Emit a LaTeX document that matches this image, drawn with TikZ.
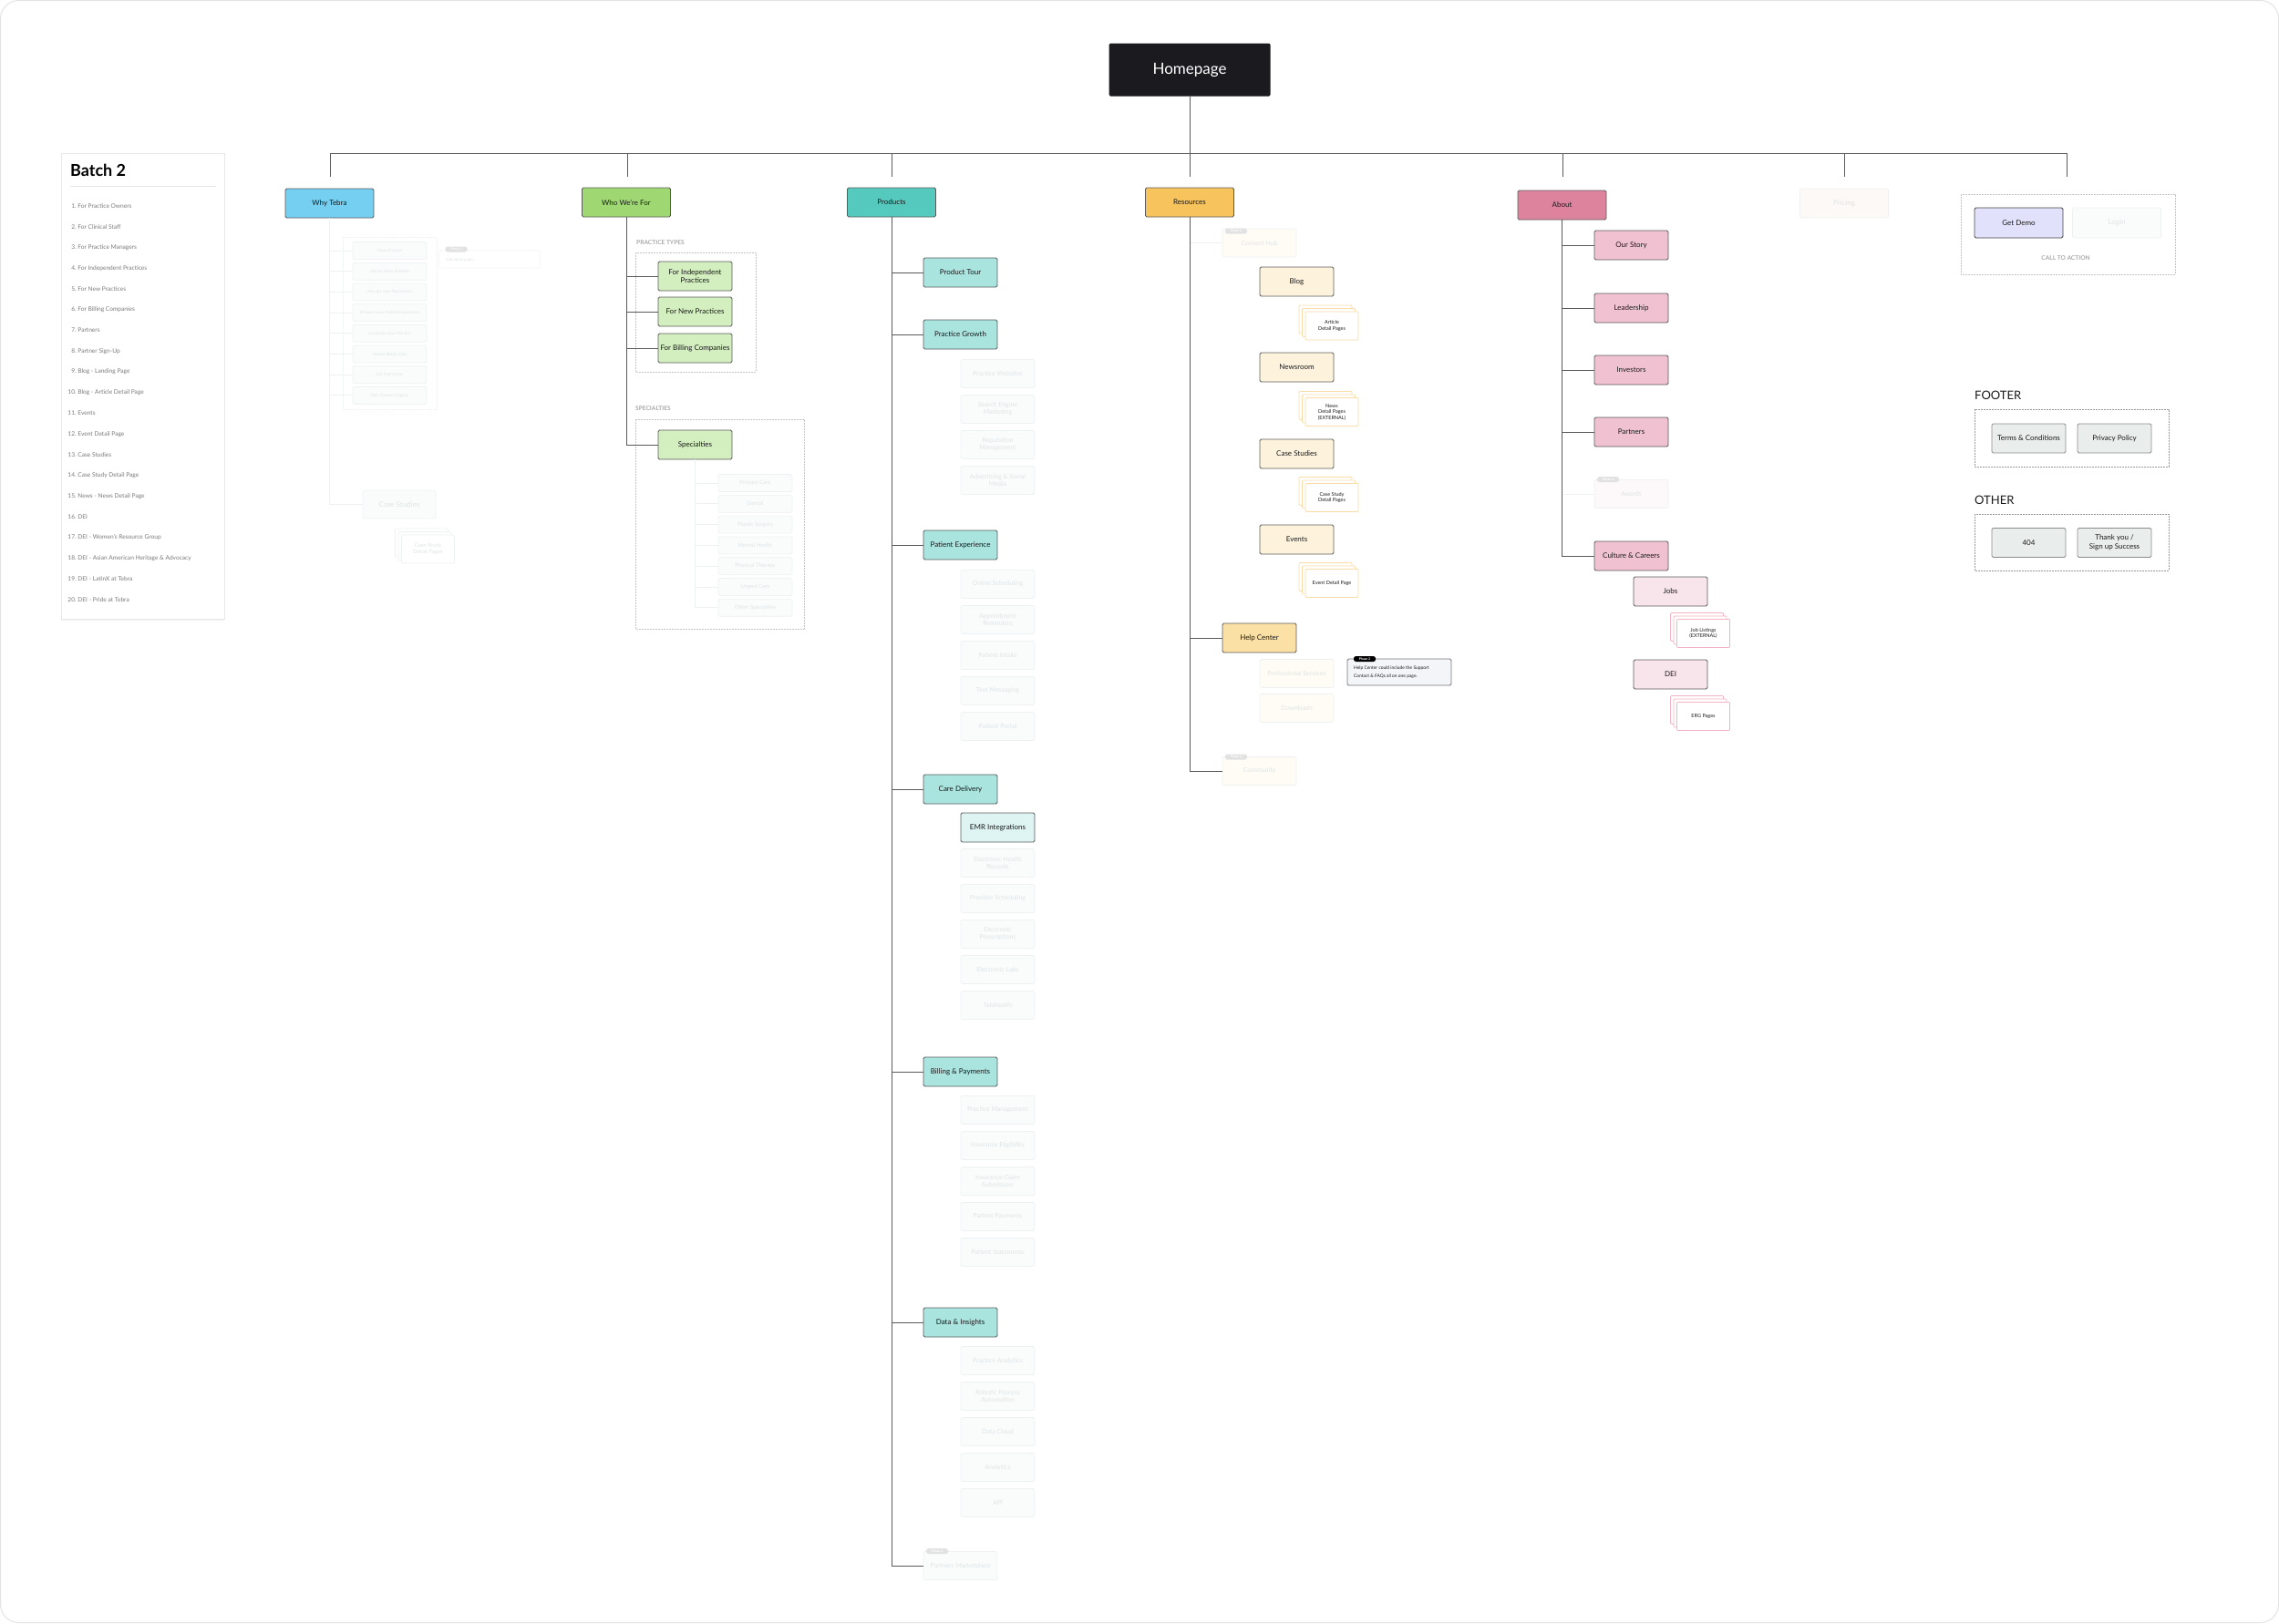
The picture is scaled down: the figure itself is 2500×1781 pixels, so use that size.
\documentclass[tikz,border=0pt]{standalone}
\usepackage{fontspec}
\setmainfont{Lato}
\usetikzlibrary{shadows}

\definecolor{homefill}{HTML}{1B1B1F}
\definecolor{edge}{HTML}{5A5A5A}
\definecolor{ink}{HTML}{1A1A1A}
\definecolor{whyfill}{HTML}{74CFF0}
\definecolor{whofill}{HTML}{9FD873}
\definecolor{whosub}{HTML}{D3EEBF}
\definecolor{prodfill}{HTML}{56C9BE}
\definecolor{prodsub}{HTML}{A9E4DF}
\definecolor{emrfill}{HTML}{DDF4F2}
\definecolor{resfill}{HTML}{F7C35C}
\definecolor{ressub}{HTML}{FDF3DD}
\definecolor{helpfill}{HTML}{FBE0A5}
\definecolor{resstack}{HTML}{FBDCA6}
\definecolor{aboutfill}{HTML}{DE839E}
\definecolor{aboutsub}{HTML}{F0C2D1}
\definecolor{aboutsubb}{HTML}{F8E5EB}
\definecolor{aboutstack}{HTML}{F3B3C5}
\definecolor{demofill}{HTML}{E1E1FB}
\definecolor{grayfill}{HTML}{E9EDEB}
\definecolor{ghostline}{HTML}{EDF1F1}
\definecolor{ghostfill}{HTML}{FAFCFC}
\definecolor{ghosttext}{HTML}{DFE4E4}
\definecolor{ghostbadge}{HTML}{E2E2E2}
\definecolor{resghost}{HTML}{FFFCF6}
\definecolor{aboutghost}{HTML}{FDF8F9}
\definecolor{priceghost}{HTML}{FDF9F6}
\definecolor{framegray}{HTML}{C4C4C4}
\definecolor{labelgray}{HTML}{A8A8A8}
\definecolor{listgray}{HTML}{7A7A7A}
\definecolor{notefill}{HTML}{F4F5F9}

\tikzset{
  box/.style={rectangle, rounded corners=1.5pt, draw=edge, line width=0.9pt, align=center,
    inner sep=1pt, text=ink, font=\fontsize{8}{9.5}\selectfont},
  catbox/.style={box, minimum width=97pt, minimum height=32pt, fill=#1},
  catbox/.default=white,
  subbox/.style={box, minimum width=81pt, minimum height=32pt, fill=#1},
  subbox/.default=white,
  ghost/.style={rectangle, rounded corners=1.5pt, draw=ghostline, line width=0.7pt, fill=#1,
    text=ghosttext, align=center, minimum width=81pt, minimum height=31pt, inner sep=1pt,
    font=\fontsize{7}{8}\selectfont},
  ghost/.default=ghostfill,
  minighost/.style={ghost, minimum height=19pt, font=\fontsize{4.5}{5.5}\selectfont},
  pagestack/.style={rectangle, rounded corners=1pt, draw=#1, line width=0.7pt, fill=white,
    minimum width=58pt, minimum height=31pt, align=center, inner sep=1pt, text=ink,
    font=\fontsize{5.5}{6.5}\selectfont,
    general shadow={shadow xshift=-7pt, shadow yshift=7pt, draw=#1, line width=0.7pt, fill=white},
    general shadow={shadow xshift=-3.5pt, shadow yshift=3.5pt, draw=#1, line width=0.7pt, fill=white}},
  pagestack/.default=resstack,
  badge/.style={rectangle, rounded corners=2.5pt, fill=#1, text=white, minimum width=24pt,
    minimum height=6pt, inner sep=0pt, font=\fontsize{3.5}{4}\selectfont\bfseries},
  badge/.default=ghostbadge,
  trunk/.style={draw=edge, line width=1pt},
  faintline/.style={draw=ghostline, line width=0.9pt},
  dashframe/.style={draw=framegray, line width=0.7pt, dash pattern=on 1.6pt off 1.4pt},
  grouplabel/.style={anchor=west, inner sep=0pt, text=labelgray, font=\fontsize{6.6}{7.5}\selectfont\bfseries},
  bigtitle/.style={anchor=west, inner sep=0pt, text=ink, font=\fontsize{13}{15}\selectfont},
}

\begin{document}
\begin{tikzpicture}[x=1pt, y=-1pt]
    \useasboundingbox (0,0) rectangle (2500,1781);
    \draw[draw=black!11, line width=1pt, rounded corners=20pt] (0.5,0.5) rectangle (2499.5,1780.5);

    % Liste de gauche
    \draw[fill=white, draw=black!9, drop shadow={shadow xshift=0pt, shadow yshift=-1.5pt, opacity=0.12}]
      (67,168) rectangle (246,679);
    \node[anchor=west, inner sep=0pt, text=black, font=\fontsize{18}{20}\selectfont\bfseries] (batch) at (77,187) {Batch 2};
    \draw[draw=black!10, line width=1pt] (77,204) -- (237,204);
    \foreach \t [count=\i] in {For Practice Owners, For Clinical Staff, For Practice Managers,
      For Independent Practices, For New Practices, For Billing Companies, Partners,
      Partner Sign-Up, Blog - Landing Page, Blog - Article Detail Page, Events,
      Event Detail Page, Case Studies, Case Study Detail Page, News - News Detail Page, DEI,
      DEI - Women's Resource Group, DEI - Asian American Heritage \& Advocacy,
      DEI - LatinX at Tebra, DEI - Pride at Tebra}
      \node[anchor=west, inner sep=0pt, text=listgray, font=\fontsize{6.6}{7.5}\selectfont]
        (item\i) at (73.5,{226+22.75*(\i-1)}) {\makebox[10pt][r]{\i.}\ \t};

    % Racine et barre
    \node[rectangle, rounded corners=1.5pt, fill=homefill, text=white, minimum width=177pt,
      minimum height=58pt, font=\fontsize{17}{19}\selectfont] (home) at (1305,76.5) {Homepage};
    \foreach \n/\x in {why/362, who/688, prod/978, res/1305, about/1714, price/2023, cta/2267} {
      \coordinate (\n-top) at (\x,168);
      \coordinate (\n-in) at (\x,194);
      \draw[trunk] (\n-top) -- (\n-in);
    }
    \draw[trunk] (why-top) -- (cta-top);
    \draw[trunk] (home.south) -- (res-top);

    % Why Tebra
    \node[catbox=whyfill] (why) at (361.5,223) {Why Tebra};
    \draw[faintline, dash pattern=on 1.6pt off 1.4pt] (376,260) rectangle (479,449);
    \foreach \t [count=\i] in {Grow Practice, Attract More Patients, Manage your Reputation,
      Enhance your Patient Experience, Automate your Practice, Deliver Better Care,
      Get Paid Faster, Gain Deeper Insights} {
      \draw[faintline] (why.south) |- (427.5,{275+22.7*(\i-1)});
      \node[minighost] (why\i) at (427.5,{275+22.7*(\i-1)}) {\t};
    }
    \node[rectangle, rounded corners=1pt, draw=ghostline, line width=0.7pt, minimum width=110pt,
      minimum height=19pt] (whynote) at (537,284.5) {};
    \node[anchor=west, inner sep=0pt, text=ghosttext, font=\fontsize{4.5}{5}\selectfont] (whynotetxt) at (489,285) {Individual pages};
    \node[badge] (whyphase) at (500.5,273.5) {Phase 2};
    \node[ghost, minimum width=80pt, font=\fontsize{8}{9}\selectfont] (whycs) at (438,553.5) {Case Studies};
    \draw[faintline] (why.south) |- (whycs.west);
    \node[pagestack=ghostline, text=ghosttext, font=\fontsize{6}{7}\selectfont] (whycsd) at (469.5,602.5) {Case Study\\Detail Pages};

    % Who We're For
    \node[catbox=whofill] (who) at (687,222) {Who We're For};
    \node[grouplabel] (ptlabel) at (698,266) {PRACTICE TYPES};
    \draw[dashframe] (697,277) rectangle (829,408);
    \node[grouplabel] (splabel) at (697,448) {SPECIALTIES};
    \draw[dashframe] (697,460) rectangle (882,690);
    \node[subbox=whosub] (whoind) at (762.5,303) {For Independent\\Practices};
    \node[subbox=whosub] (whonew) at (762.5,342) {For New Practices};
    \node[subbox=whosub] (whobill) at (762.5,382) {For Billing Companies};
    \node[subbox=whosub] (whospec) at (762.5,488) {Specialties};
    \foreach \n in {whoind, whonew, whobill, whospec}
      \draw[trunk] (who.south) |- (\n.west);
    \foreach \t [count=\i] in {Primary Care, Dental, Plastic Surgery, Mental Health,
      Physical Therapy, Urgent Care, Other Specialties} {
      \node[minighost, font=\fontsize{6}{7}\selectfont] (spec\i) at (828.5,{530+22.8*(\i-1)}) {\t};
      \draw[faintline] (whospec.south) |- (spec\i.west);
    }

    % Products
    \node[catbox=prodfill] (prod) at (978,222) {Products};
    \foreach \n/\t/\y in {tour/Product Tour/299, growth/Practice Growth/367,
      patexp/Patient Experience/598, care/Care Delivery/866,
      billpay/Billing \& Payments/1176, data/Data \& Insights/1451} {
      \node[subbox=prodsub] (\n) at (1053.5,\y) {\t};
      \draw[trunk] (prod.south) |- (\n.west);
    }
    \node[ghost] (prodpm) at (1053.5,1718) {Partners Marketplace};
    \draw[trunk] (prod.south) |- (prodpm.west);
    \node[badge] (pmphase) at (1028,1702) {Phase 2};
    \foreach \t/\y [count=\i] in {Practice Websites/410, Search Engine\\Marketing/449,
      Reputation\\Management/488, Advertising \& Social\\Media/527}
      \node[ghost] (grow\i) at (1094.5,\y) {\t};
    \foreach \t/\y [count=\i] in {Online Scheduling/641, Appointment\\Reminders/680,
      Patient Intake/719, Text Messaging/758, Patient Portal/797}
      \node[ghost] (pat\i) at (1094.5,\y) {\t};
    \node[subbox=emrfill] (emr) at (1094.5,908) {EMR Integrations};
    \foreach \t/\y [count=\i] in {Electronic Health\\Records/947, Provider Scheduling/986,
      Electronic\\Prescriptions/1025, Electronic Labs/1064, Telehealth/1103}
      \node[ghost] (care\i) at (1094.5,\y) {\t};
    \foreach \t/\y [count=\i] in {Practice Management/1218, Insurance Eligibility/1257,
      Insurance Claim\\Submission/1296, Patient Payments/1335, Patient Statements/1374}
      \node[ghost] (bill\i) at (1094.5,\y) {\t};
    \foreach \t/\y [count=\i] in {Practice Analytics/1493, Robotic Process\\Automation/1532,
      Data Cloud/1571, Analytics/1610, API/1649}
      \node[ghost] (data\i) at (1094.5,\y) {\t};

    % Resources
    \node[catbox=resfill] (res) at (1305,222) {Resources};
    \node[ghost=resghost] (reshub) at (1381.5,266.5) {Content Hub};
    \draw[faintline] (res.south |- reshub.west) -- (reshub.west);
    \node[badge] (hubphase) at (1356,253.5) {Phase 2};
    \node[subbox=ressub] (blog) at (1422.5,309) {Blog};
    \node[subbox=ressub] (news) at (1422.5,403) {Newsroom};
    \node[subbox=ressub] (rescase) at (1422.5,498) {Case Studies};
    \node[subbox=ressub] (events) at (1422.5,592) {Events};
    \node[pagestack] (blogpages) at (1461,357.5) {Article\\Detail Pages};
    \node[pagestack] (newspages) at (1461,452) {News\\Detail Pages\\(EXTERNAL)};
    \node[pagestack] (casepages) at (1461,546) {Case Study\\Detail Pages};
    \node[pagestack] (eventpages) at (1461,640) {Event Detail Page};
    \node[subbox=helpfill] (help) at (1381.5,700) {Help Center};
    \draw[trunk] (res.south) |- (help.west);
    \node[ghost=resghost] (services) at (1422.5,739) {Professional Services};
    \node[ghost=resghost] (downloads) at (1422.5,777) {Downloads};
    \node[rectangle, rounded corners=1.5pt, draw=black!55, line width=0.8pt, fill=notefill,
      minimum width=114pt, minimum height=29pt] (helpnote) at (1535,737.5) {};
    \node[anchor=west, align=left, inner sep=0pt, text=ink, font=\fontsize{4.9}{9}\selectfont]
      (helpnotetxt) at (1485,737.5) {Help Center could include the Support\\Contact \& FAQs all on one page.};
    \node[badge=black] (helpphase) at (1497,723) {Phase 2};
    \node[ghost=resghost] (community) at (1381.5,846) {Community};
    \draw[trunk] (res.south) |- (community.west);
    \node[badge] (comphase) at (1356,830.5) {Phase 2};

    % About
    \node[catbox=aboutfill] (about) at (1713.5,225) {About};
    \foreach \n/\t/\y in {story/Our Story/269, lead/Leadership/338, invest/Investors/406,
      partners/Partners/474, culture/Culture \& Careers/610} {
      \node[subbox=aboutsub] (\n) at (1789.5,\y) {\t};
      \draw[trunk] (about.south) |- (\n.west);
    }
    \node[ghost=aboutghost] (awards) at (1789.5,542) {Awards};
    \draw[faintline] (about.south |- awards.west) -- (awards.west);
    \node[badge] (awphase) at (1764,526) {Phase 2};
    \node[subbox=aboutsubb] (jobs) at (1832.5,649) {Jobs};
    \node[subbox=aboutsubb] (dei) at (1832.5,740) {DEI};
    \node[pagestack=aboutstack] (jobpages) at (1868.5,695) {Job Listings\\(EXTERNAL)};
    \node[pagestack=aboutstack] (ergpages) at (1868.5,786) {ERG Pages};

    % Pricing et appel a l'action
    \node[catbox=priceghost, draw=ghostline, line width=0.7pt, text=ghosttext] (price) at (2023,223) {Pricing};
    \draw[dashframe] (2151,213) rectangle (2386,301);
    \node[catbox=demofill, draw=black!75, minimum height=33pt] (demo) at (2214.5,244.5) {Get Demo};
    \node[ghost, minimum width=97pt, minimum height=33pt, font=\fontsize{8}{9}\selectfont] (login) at (2322,244.5) {Login};
    \node[grouplabel, anchor=center] (ctalabel) at (2266,283) {CALL TO ACTION};

    % Footer et autres pages
    \node[bigtitle] (footer) at (2166,434) {FOOTER};
    \draw[dashframe, draw=black!40] (2166,449) rectangle (2379,512);
    \node[subbox=grayfill, draw=black!45] (terms) at (2225.5,481) {Terms \& Conditions};
    \node[subbox=grayfill, draw=black!45] (privacy) at (2319.5,481) {Privacy Policy};
    \node[bigtitle] (other) at (2166,549) {OTHER};
    \draw[dashframe, draw=black!40] (2166,564) rectangle (2379,626);
    \node[subbox=grayfill, draw=black!45] (notfound) at (2225.5,595.5) {404};
    \node[subbox=grayfill, draw=black!45] (thanks) at (2319.5,595.5) {Thank you /\\Sign up Success};
\end{tikzpicture}
\end{document}
